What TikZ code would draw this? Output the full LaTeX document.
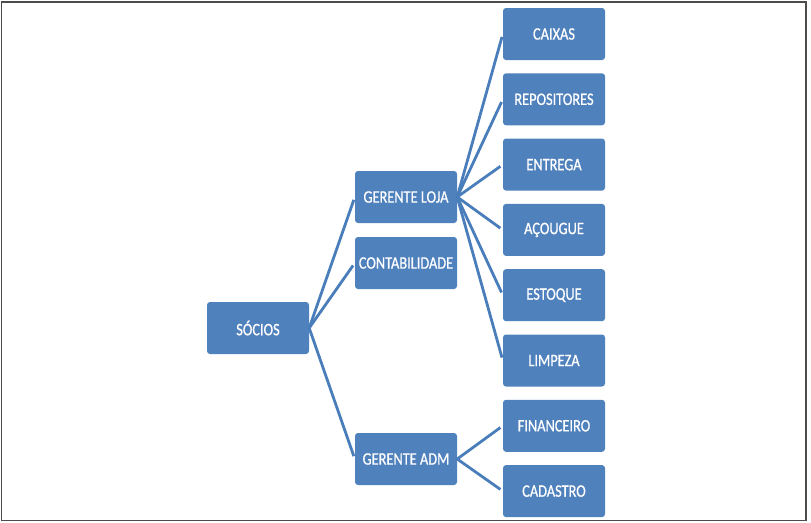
\documentclass[tikz,border=0pt]{standalone}
\usepackage{fontspec}
\setmainfont{Carlito}
\newfontfamily\boxfont[FakeStretch=0.82, FakeBold=0.7]{Carlito}
\usetikzlibrary{positioning}

\definecolor{boxblue}{HTML}{4F81BD}
\definecolor{lineblue}{HTML}{4A7EBB}

\tikzset{
  orgbox/.style={rectangle, rounded corners=3pt, fill=boxblue,
    minimum width=102pt, minimum height=52pt, inner sep=1pt,
    text=white, font=\boxfont\fontsize{17.5}{19}\selectfont},
  orgline/.style={draw=lineblue, line width=2.8pt, shorten >=3pt}
}

\begin{document}
\begin{tikzpicture}[x=1pt, y=-1pt, node distance=65.3pt, on grid]
    \useasboundingbox (0,0) rectangle (811,522);
    \draw[gray!60!black, line width=1.3pt] (1.5,2) rectangle (806,520.5);

    \node[orgbox] (socios) at (258,328) {SÓCIOS};
    \node[orgbox] (gerloja) at (406,197) {GERENTE LOJA};
    \node[orgbox] (contab) at (406,263) {CONTABILIDADE};
    \node[orgbox] (geradm) at (406,459) {GERENTE ADM};

    \node[orgbox] (caixas) at (554,34) {CAIXAS};
    \node[orgbox] (repos) [below=of caixas] {REPOSITORES};
    \node[orgbox] (entrega) [below=of repos] {ENTREGA};
    \node[orgbox] (acougue) [below=of entrega] {AÇOUGUE};
    \node[orgbox] (estoque) [below=of acougue] {ESTOQUE};
    \node[orgbox] (limpeza) [below=of estoque] {LIMPEZA};
    \node[orgbox] (financ) [below=of limpeza] {FINANCEIRO};
    \node[orgbox] (cadastro) [below=of financ] {CADASTRO};

    \path[orgline]
    (socios.east) edge (gerloja.west)
                  edge (contab.west)
                  edge (geradm.west)
    (gerloja.east) edge (caixas.west)
                   edge (repos.west)
                   edge (entrega.west)
                   edge (acougue.west)
                   edge (estoque.west)
                   edge (limpeza.west)
    (geradm.east) edge (financ.west)
                  edge (cadastro.west)
          ;
\end{tikzpicture}
\end{document}
